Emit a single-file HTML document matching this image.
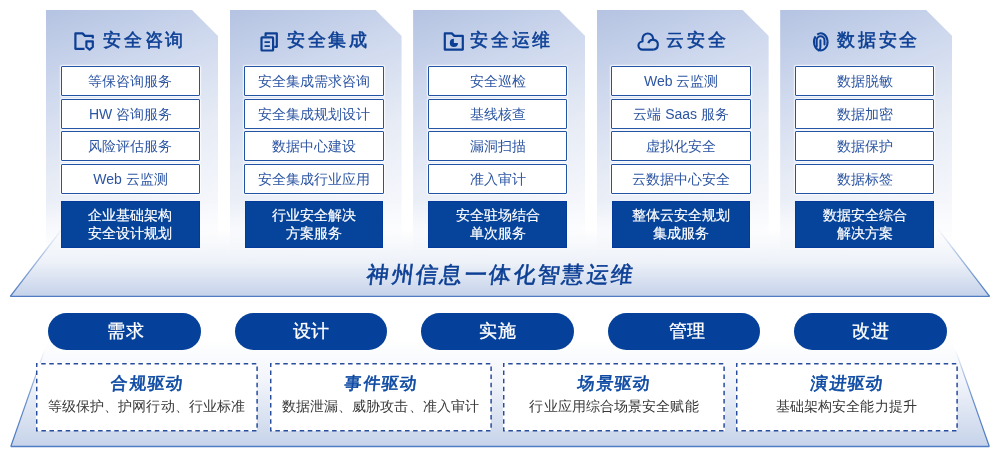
<!DOCTYPE html>
<html><head><meta charset="utf-8">
<style>
*{margin:0;padding:0;box-sizing:border-box}
html,body{width:1000px;height:458px;background:#fff;overflow:hidden;font-family:"Liberation Sans",sans-serif}
#w{position:absolute;left:0;top:0;width:1000px;height:458px;will-change:transform}
.abs{position:absolute}
.col{position:absolute;top:10px;width:172px;height:245px;
  clip-path:polygon(0 0,146px 0,172px 26px,172px 100%,0 100%);
  background:linear-gradient(160deg,#b4c3e2 0%,#cfd9ee 28%,#e6ebf5 55%,#f4f6fb 80%,#fbfcfe 100%);
  -webkit-mask-image:linear-gradient(to bottom,#000 0%,#000 78%,rgba(0,0,0,0) 100%)}
.hd{position:absolute;top:27px;height:26px;line-height:26px;color:#0c3f94;font-size:18px;letter-spacing:2.7px;-webkit-text-stroke:0.55px #0c3f94;white-space:nowrap}
.bx{position:absolute;width:139.6px;height:30px;border:1.4px solid #2353a3;border-radius:1px;background:#fff;
  color:#2c55a2;font-size:14px;text-align:center;line-height:29.4px;white-space:nowrap;
  box-shadow:0 0 1.5px 1px rgba(255,255,255,.85)}
.dk{position:absolute;top:200.8px;width:138.6px;height:47px;background:#06439b;border:1px solid #02399a;color:#fff;font-size:14px;
  -webkit-text-stroke:0.2px #fff;text-align:center;line-height:17.8px;padding-top:5px;white-space:nowrap}
.pill{position:absolute;top:313.3px;width:152.4px;height:36.7px;border-radius:18.4px;background:#05419a;color:#fff;
  font-size:18px;letter-spacing:0.2px;-webkit-text-stroke:0.3px #fff;text-align:center;line-height:37.5px}
.db{position:absolute;top:362.9px;width:221.8px;height:68.4px;background:#fff;text-align:center}
.db svg{position:absolute;left:0;top:0}
.db .t{position:absolute;left:1.6px;right:0;top:10.6px;font-size:17px;letter-spacing:1.2px;color:#0b48a2;line-height:22px;-webkit-text-stroke:0.6px #0b48a2}
.db .t span{display:inline-block;transform:skewX(-6deg)}
.db .s{position:absolute;left:0;right:0;top:33.1px;font-size:14px;letter-spacing:0.1px;color:#383838;line-height:20px}
.ttl{position:absolute;left:1.2px;width:1000px;top:259.5px;text-align:center;font-size:22px;letter-spacing:2.4px;color:#0c3f94;line-height:30px;-webkit-text-stroke:0.6px #0c3f94}
.ttl span{display:inline-block;transform:skewX(-7deg)}
</style></head><body><div id="w">

<svg class="abs" style="left:0;top:0" width="1000" height="458">
  <defs>
    <linearGradient id="g2" gradientUnits="userSpaceOnUse" x1="0" y1="340" x2="0" y2="446">
      <stop offset="0" stop-color="#fff"/>
      <stop offset="0.4" stop-color="#f1f4fa"/>
      <stop offset="1" stop-color="#c6d3ea"/>
    </linearGradient>
    <linearGradient id="g1" gradientUnits="userSpaceOnUse" x1="0" y1="229" x2="0" y2="296">
      <stop offset="0" stop-color="#fff"/>
      <stop offset="0.5" stop-color="#edf1f8"/>
      <stop offset="1" stop-color="#c5d2ea"/>
    </linearGradient>
    <linearGradient id="lsa" gradientUnits="userSpaceOnUse" x1="0" y1="225" x2="0" y2="296">
      <stop offset="0" stop-color="#4a78c0" stop-opacity="0"/>
      <stop offset="1" stop-color="#4a78c0"/>
    </linearGradient>
    <linearGradient id="lsb" gradientUnits="userSpaceOnUse" x1="0" y1="350" x2="0" y2="446">
      <stop offset="0" stop-color="#4a78c0" stop-opacity="0"/>
      <stop offset="0.2" stop-color="#4a78c0" stop-opacity="0.35"/>
      <stop offset="0.5" stop-color="#4a78c0" stop-opacity="0.8"/>
      <stop offset="1" stop-color="#4a78c0"/>
    </linearGradient>
  </defs>
  <polygon points="51.6,330 948.5,330 989.3,446.5 10.8,446.5" fill="url(#g2)"/>
  <polygon points="62,229 938,229 989.6,296.4 10.3,296.4" fill="url(#g1)"/>
  <path d="M10.8 446.5 H989.3 M10.3 296.4 H989.6" stroke="#4f7cc2" stroke-width="1.4" fill="none"/>
  <path d="M10.3 296.4 L62 229 M989.6 296.4 L938 229" stroke="url(#lsa)" stroke-width="1.3" fill="none"/>
  <path d="M10.8 446.5 L44.6 350 M989.3 446.5 L955.5 350" stroke="url(#lsb)" stroke-width="1.2" fill="none"/>
</svg>

<div class="col" style="left:46.00px"></div>
<div class="col" style="left:229.55px"></div>
<div class="col" style="left:413.10px"></div>
<div class="col" style="left:596.65px"></div>
<div class="col" style="left:780.20px"></div>

<!-- header icons -->
<svg class="abs" style="left:0;top:0" width="1000" height="458" fill="none" stroke="#0c3f94" stroke-width="2.2" stroke-linejoin="round">
<path d="M84.5 48.8 H75.4 V33.4 H82.5 L85 35.9 H92.8 V38.5"/>
<path d="M86.4 41.3 H92.8 V47 L89.6 49.6 L86.4 47 Z"/>
<path d="M265.6 36.2 V33.4 H276.8 V46.8 H274.2"/>
<rect x="261.5" y="37.3" width="11.6" height="13.2" rx="0.6"/>
<path d="M264.5 42.2 H269.9 M264.5 46.2 H269.9" stroke-width="1.8"/>
<path d="M444.8 33.4 H451.8 L454.3 35.9 H462.8 V49.6 H444.8 Z"/>
<path d="M453.9 42.9 H458 A4.1 4.1 0 1 1 453.9 38.8 Z" fill="#0c3f94" stroke="none"/>
<g stroke-width="2.15">
<path d="M653.15 49.6 H642.5 A4 4 0 0 1 642.5 41.5 L642.5 38.8 A5.3 5.3 0 0 1 653.1 38.8 L653.1 40.1"/>
<path d="M648.3 43.1 A4.9 4.9 0 1 1 653.15 49.6"/>
</g>
<g stroke-width="2" stroke-linecap="round">
<path d="M817.2 34.61 A6.8 8.6 0 1 1 815.59 36.37" stroke-linecap="butt"/>
<path d="M816.7 46.8 V40.2 A3.9 3.9 0 0 1 824.5 40.2 V44.6"/>
<path d="M820.4 40.3 V47.2 Q820.4 49.3 818.7 50.4"/>
</g>
</svg>
<div class="hd" style="left:103.4px">安全咨询</div>
<div class="hd" style="left:287.1px">安全集成</div>
<div class="hd" style="left:470.2px">安全运维</div>
<div class="hd" style="left:666.2px">云安全</div>
<div class="hd" style="left:837.2px">数据安全</div>

<!-- col 1 -->
<div class="bx" style="left:60.70px;top:66.3px">等保咨询服务</div>
<div class="bx" style="left:60.70px;top:98.8px">HW 咨询服务</div>
<div class="bx" style="left:60.70px;top:131.3px">风险评估服务</div>
<div class="bx" style="left:60.70px;top:163.7px">Web 云监测</div>
<div class="dk" style="left:61.20px">企业基础架构<br>安全设计规划</div>
<!-- col 2 -->
<div class="bx" style="left:244.25px;top:66.3px">安全集成需求咨询</div>
<div class="bx" style="left:244.25px;top:98.8px">安全集成规划设计</div>
<div class="bx" style="left:244.25px;top:131.3px">数据中心建设</div>
<div class="bx" style="left:244.25px;top:163.7px">安全集成行业应用</div>
<div class="dk" style="left:244.75px">行业安全解决<br>方案服务</div>
<!-- col 3 -->
<div class="bx" style="left:427.80px;top:66.3px">安全巡检</div>
<div class="bx" style="left:427.80px;top:98.8px">基线核查</div>
<div class="bx" style="left:427.80px;top:131.3px">漏洞扫描</div>
<div class="bx" style="left:427.80px;top:163.7px">准入审计</div>
<div class="dk" style="left:428.30px">安全驻场结合<br>单次服务</div>
<!-- col 4 -->
<div class="bx" style="left:611.35px;top:66.3px">Web 云监测</div>
<div class="bx" style="left:611.35px;top:98.8px">云端 Saas 服务</div>
<div class="bx" style="left:611.35px;top:131.3px">虚拟化安全</div>
<div class="bx" style="left:611.35px;top:163.7px">云数据中心安全</div>
<div class="dk" style="left:611.85px">整体云安全规划<br>集成服务</div>
<!-- col 5 -->
<div class="bx" style="left:794.90px;top:66.3px">数据脱敏</div>
<div class="bx" style="left:794.90px;top:98.8px">数据加密</div>
<div class="bx" style="left:794.90px;top:131.3px">数据保护</div>
<div class="bx" style="left:794.90px;top:163.7px">数据标签</div>
<div class="dk" style="left:795.40px">数据安全综合<br>解决方案</div>

<div class="ttl"><span>神州信息一体化智慧运维</span></div>

<div class="pill" style="left:48.4px;padding-left:2px">需求</div>
<div class="pill" style="left:234.9px">设计</div>
<div class="pill" style="left:421.4px">实施</div>
<div class="pill" style="left:607.9px;padding-left:5.5px">管理</div>
<div class="pill" style="left:794.4px">改进</div>

<div class="db" style="left:35.6px"><svg width="222" height="69"><rect x="0.7" y="0.7" width="220.4" height="67" fill="none" stroke="#284c9c" stroke-width="1.5" stroke-dasharray="4.5 3.6" stroke-dashoffset="3.6"/></svg><div class="t"><span>合规驱动</span></div><div class="s">等级保护、护网行动、行业标准</div></div>
<div class="db" style="left:269.5px"><svg width="222" height="69"><rect x="0.7" y="0.7" width="220.4" height="67" fill="none" stroke="#284c9c" stroke-width="1.5" stroke-dasharray="4.5 3.6" stroke-dashoffset="3.6"/></svg><div class="t"><span>事件驱动</span></div><div class="s">数据泄漏、威胁攻击、准入审计</div></div>
<div class="db" style="left:503.2px"><svg width="222" height="69"><rect x="0.7" y="0.7" width="220.4" height="67" fill="none" stroke="#284c9c" stroke-width="1.5" stroke-dasharray="4.5 3.6" stroke-dashoffset="3.6"/></svg><div class="t"><span>场景驱动</span></div><div class="s">行业应用综合场景安全赋能</div></div>
<div class="db" style="left:735.5px"><svg width="222" height="69"><rect x="0.7" y="0.7" width="220.4" height="67" fill="none" stroke="#284c9c" stroke-width="1.5" stroke-dasharray="4.5 3.6" stroke-dashoffset="3.6"/></svg><div class="t"><span>演进驱动</span></div><div class="s">基础架构安全能力提升</div></div>

</div></body></html>
